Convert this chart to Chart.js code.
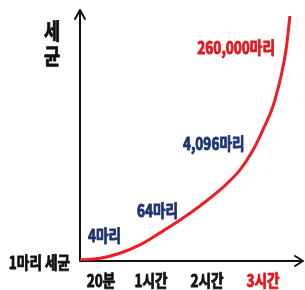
<!DOCTYPE html>
<html>
<head>
<meta charset="utf-8">
<script src="https://cdn.jsdelivr.net/npm/chart.js@4/dist/chart.umd.min.js"></script>
<style>
  html, body { margin: 0; padding: 0; background: #fff; }
  #wrap { width: 305px; height: 290px; }
</style>
</head>
<body>
<div id="wrap"><canvas id="growth"></canvas></div>
<script>
// 세균 증식 곡선 (x: 시간축 위치, y: 개체수 상대값)
const growthX = [0, 9.2, 18.3, 27.5, 36.7, 45.9, 55.0, 64.2, 73.4, 79.4, 83.9, 89.4, 94.5, 96.3];
const growthY = [0.4, 1.1, 3.1, 6.4, 11.2, 16.3, 21.9, 28.3, 36.3, 44.2, 52.2, 64.1, 84.1, 97.6];

// x축 라벨
const timeLabels = ['20분', '1시간', '2시간', '3시간'];
const timePos = [9.6, 32.6, 58.3, 83.9];
const timeColors = ['#111', '#111', '#111', '#e8141b'];

// 곡선 옆 개체수 라벨
const countLabels = ['4마리', '64마리', '4,096마리', '260,000마리'];
const countX = [3.7, 26.1, 47.2, 89.4];
const countY = [10, 20.3, 46.6, 85];
const countColors = ['#1f3472', '#1f3472', '#1f3472', '#e8141b'];

const startLabel = '1마리 세균';
const axisTitle = ['세', '균'];

// 글자를 가로로 살짝 눌러서 굵게 그리기
function drawText(ctx, text, x, y, size, color, align) {
    const sx = 0.8;
    ctx.save();
    ctx.font = 'bold ' + size + 'px "Noto Sans CJK KR", sans-serif';
    ctx.fillStyle = color;
    ctx.strokeStyle = color;
    ctx.lineWidth = 0.9;
    ctx.lineJoin = 'round';
    ctx.textBaseline = 'middle';
    ctx.textAlign = align || 'left';
    ctx.translate(x, y);
    ctx.scale(sx, 1);
    ctx.fillText(text, 0, 0);
    ctx.strokeText(text, 0, 0);
    ctx.restore();
}

const arrowAxes = {
    id: 'arrowAxes',
    beforeDatasetsDraw(chart) {
        const ctx = chart.ctx;
        const xs = chart.scales.x, ys = chart.scales.y;
        const x0 = xs.getPixelForValue(0), y0 = ys.getPixelForValue(0);
        const top = chart.chartArea.top, right = chart.width - 2;
        ctx.save();
        ctx.strokeStyle = '#111';
        ctx.lineWidth = 2;
        ctx.lineCap = 'round';
        ctx.lineJoin = 'round';
        ctx.beginPath();
        ctx.moveTo(x0, y0); ctx.lineTo(x0, top);
        ctx.moveTo(x0 - 5, top + 9); ctx.lineTo(x0, top); ctx.lineTo(x0 + 5, top + 9);
        ctx.moveTo(x0, y0); ctx.lineTo(right, y0);
        ctx.moveTo(right - 8, y0 - 5); ctx.lineTo(right, y0); ctx.lineTo(right - 8, y0 + 5);
        ctx.stroke();
        ctx.restore();
    },
    afterDraw(chart) {
        const ctx = chart.ctx;
        const xs = chart.scales.x, ys = chart.scales.y;
        const x0 = xs.getPixelForValue(0), y0 = ys.getPixelForValue(0);

        timeLabels.forEach((t, i) => {
            drawText(ctx, t, xs.getPixelForValue(timePos[i]), y0 + 20, 17, timeColors[i], 'center');
        });
        countLabels.forEach((t, i) => {
            const align = i === 3 ? 'right' : 'left';
            drawText(ctx, t, xs.getPixelForValue(countX[i]), ys.getPixelForValue(countY[i]), 17, countColors[i], align);
        });
        drawText(ctx, startLabel, x0 - 10, y0 + 2, 17, '#111', 'right');
        drawText(ctx, axisTitle[0], 52, 31, 22, '#111', 'center');
        drawText(ctx, axisTitle[1], 52, 56, 22, '#111', 'center');
    }
};

new Chart(document.getElementById('growth'), {
    type: 'line',
    data: {
        datasets: [{
            data: growthX.map((x, i) => ({ x: x, y: growthY[i] })),
            borderColor: '#ee1c25',
            borderWidth: 3,
            pointRadius: 0,
            fill: false,
            cubicInterpolationMode: 'monotone'
        }]
    },
    options: {
        responsive: true,
        maintainAspectRatio: false,
        animation: false,
        layout: { padding: { left: 80, right: 7, top: 10, bottom: 29 } },
        scales: {
            x: { type: 'linear', min: 0, max: 100, display: false },
            y: { type: 'linear', min: 0, max: 100, display: false }
        },
        plugins: {
            legend: { display: false },
            tooltip: { enabled: false }
        }
    },
    plugins: [arrowAxes]
});
</script>
</body>
</html>
